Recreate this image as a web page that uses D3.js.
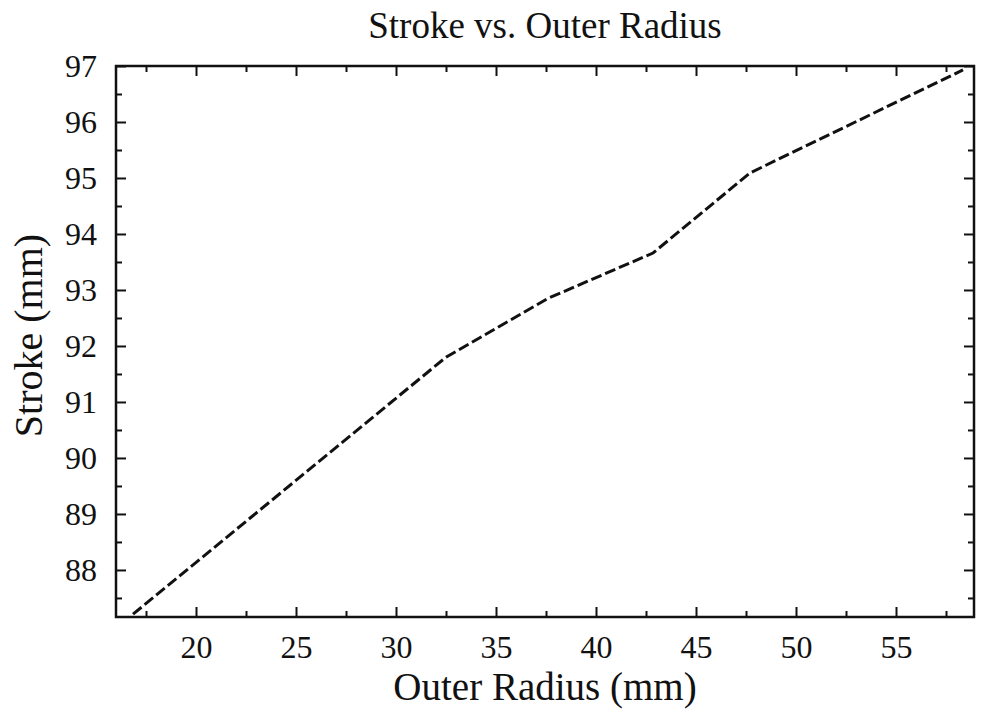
<!DOCTYPE html>
<html>
<head>
<meta charset="utf-8">
<script src="https://cdn.jsdelivr.net/npm/d3@7"></script>
<style>
  body { margin: 0; background: #fff; }
  svg text { font-family: "Liberation Serif", "Times New Roman", serif; fill: #111; }
  .axis path { display: none; }
  .axis line { stroke: #111; stroke-width: 2; }
</style>
</head>
<body>
<script>
// outer radius (mm) and stroke (mm)
var radius = [16.85, 32.5, 37.6, 42.85, 47.7, 58.35];
var stroke = [87.21, 91.8, 92.85, 93.66, 95.09, 96.93];

var xMajor = [20, 25, 30, 35, 40, 45, 50, 55];
var xMinor = [17.5, 22.5, 27.5, 32.5, 37.5, 42.5, 47.5, 52.5, 57.5];
var yMajor = [88, 89, 90, 91, 92, 93, 94, 95, 96, 97];
var yMinor = [87.5, 88.5, 89.5, 90.5, 91.5, 92.5, 93.5, 94.5, 95.5, 96.5];

function plot() {
  var width = 981, height = 715;
  var pLeft = 116, pRight = 974, pTop = 66, pBottom = 617;

  var svg = d3.select("body").append("svg")
      .attr("width", width)
      .attr("height", height);

  var x = d3.scaleLinear().domain([16, 58.9]).range([pLeft, pRight]);
  var y = d3.scaleLinear().domain([87.16, 97]).range([pBottom, pTop]);

  function addAxis(axis, tx, ty, fontSize) {
    var g = svg.append("g")
        .attr("class", "axis")
        .attr("transform", "translate(" + tx + "," + ty + ")")
        .call(axis);
    g.selectAll("text").attr("font-size", fontSize).attr("fill", "#111");
    return g;
  }

  // bottom, with labels
  addAxis(d3.axisBottom(x).tickValues(xMajor).tickSize(-10).tickPadding(18).tickFormat(d3.format("d")), 0, pBottom, 32);
  addAxis(d3.axisBottom(x).tickValues(xMinor).tickSize(-6).tickFormat(""), 0, pBottom, 0);
  // top
  addAxis(d3.axisTop(x).tickValues(xMajor).tickSize(-10).tickFormat(""), 0, pTop, 0);
  addAxis(d3.axisTop(x).tickValues(xMinor).tickSize(-6).tickFormat(""), 0, pTop, 0);
  // left, with labels
  addAxis(d3.axisLeft(y).tickValues(yMajor).tickSize(-10).tickPadding(19).tickFormat(d3.format("d")), pLeft, 0, 32);
  addAxis(d3.axisLeft(y).tickValues(yMinor).tickSize(-6).tickFormat(""), pLeft, 0, 0);
  // right
  addAxis(d3.axisRight(y).tickValues(yMajor).tickSize(-10).tickFormat(""), pRight, 0, 0);
  addAxis(d3.axisRight(y).tickValues(yMinor).tickSize(-6).tickFormat(""), pRight, 0, 0);

  svg.append("rect")
      .attr("x", pLeft)
      .attr("y", pTop)
      .attr("width", pRight - pLeft)
      .attr("height", pBottom - pTop)
      .attr("fill", "none")
      .attr("stroke", "#111")
      .attr("stroke-width", 2.5);

  var pts = radius.map(function(r, i) { return [r, stroke[i]]; });

  var line = d3.line()
      .x(function(d) { return x(d[0]); })
      .y(function(d) { return y(d[1]); });

  svg.append("path")
      .datum(pts)
      .attr("d", line)
      .attr("fill", "none")
      .attr("stroke", "#111")
      .attr("stroke-width", 3)
      .attr("stroke-dasharray", "11,4");

  // titles
  svg.append("text")
      .attr("x", (pLeft + pRight) / 2)
      .attr("y", 38)
      .attr("text-anchor", "middle")
      .attr("font-size", 37)
      .text("Stroke vs. Outer Radius");

  svg.append("text")
      .attr("x", (pLeft + pRight) / 2)
      .attr("y", 700)
      .attr("text-anchor", "middle")
      .attr("font-size", 39)
      .text("Outer Radius (mm)");

  svg.append("text")
      .attr("transform", "translate(42," + ((pTop + pBottom) / 2 - 6) + ") rotate(-90)")
      .attr("text-anchor", "middle")
      .attr("font-size", 40)
      .text("Stroke (mm)");
}

plot();
</script>
</body>
</html>
